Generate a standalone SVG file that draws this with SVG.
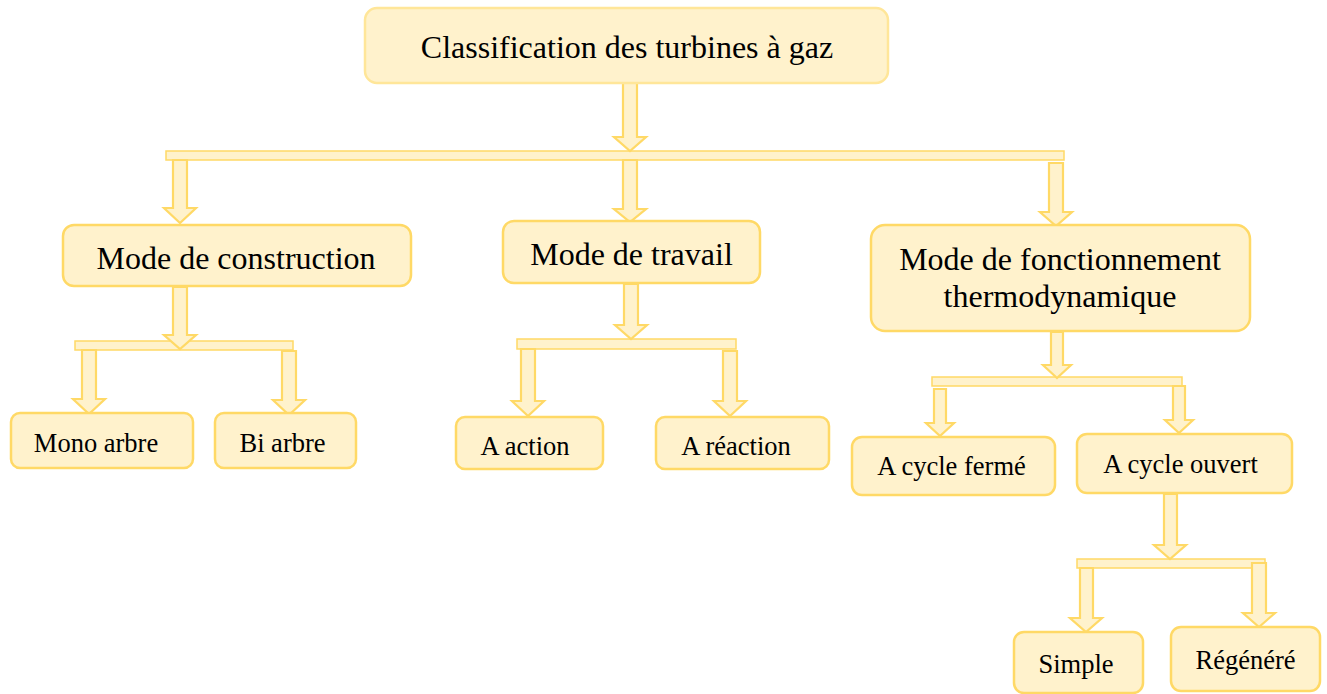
<svg xmlns="http://www.w3.org/2000/svg" width="1327" height="694" viewBox="0 0 1327 694">
<style>
.box{fill:#FFF2CC;stroke:#FFD966;stroke-width:2.5}
.top{fill:#FFF2CC;stroke:#FFE699;stroke-width:2.5}
.bar{fill:#FFF2CC;stroke:#FFD966;stroke-width:1.5}
.arr{fill:#FFF2CC;stroke:#FFD966;stroke-width:2.2;stroke-linejoin:miter}
text{font-family:"Liberation Serif","Times New Roman",serif;fill:#000;text-anchor:middle}
.big{font-size:32px}
.sm{font-size:26.5px}
</style>
<rect width="1327" height="694" fill="#fff"/>
<g id="connectors">
<rect class="bar" x="166" y="151" width="898" height="9"/>
<rect class="bar" x="75" y="341" width="218" height="9"/>
<rect class="bar" x="517" y="339" width="219" height="10"/>
<rect class="bar" x="932" y="377" width="250" height="9"/>
<rect class="bar" x="1077" y="559" width="188" height="9"/>
<path class="arr" d="M623,83 L637,83 L637,137 L646,137 L630,151 L614,137 L623,137 Z"/>
<path class="arr" d="M173,160 L187,160 L187,208 L196,208 L180,223 L164,208 L173,208 Z"/>
<path class="arr" d="M623,160 L637,160 L637,209 L646,209 L630,222 L614,209 L623,209 Z"/>
<path class="arr" d="M1049,163 L1063,163 L1063,212 L1072,212 L1056,226 L1040,212 L1049,212 Z"/>
<path class="arr" d="M173,287 L187,287 L187,335 L196,335 L180,349 L164,335 L173,335 Z"/>
<path class="arr" d="M82,350 L96,350 L96,399 L105,399 L89,414 L73,399 L82,399 Z"/>
<path class="arr" d="M282,351 L296,351 L296,400 L305,400 L289,415 L273,400 L282,400 Z"/>
<path class="arr" d="M624,284 L638,284 L638,325 L647,325 L631,339 L615,325 L624,325 Z"/>
<path class="arr" d="M521,349 L535,349 L535,401 L544,401 L528,416 L512,401 L521,401 Z"/>
<path class="arr" d="M723,351 L737,351 L737,401 L746,401 L730,416 L714,401 L723,401 Z"/>
<path class="arr" d="M1051,332 L1063,332 L1063,365 L1071,365 L1057,378 L1043,365 L1051,365 Z"/>
<path class="arr" d="M934,389 L946,389 L946,423 L954,423 L940,436 L926,423 L934,423 Z"/>
<path class="arr" d="M1173,386 L1185,386 L1185,420 L1193,420 L1179,433 L1165,420 L1173,420 Z"/>
<path class="arr" d="M1164,494 L1177,494 L1177,545 L1186,545 L1170,559 L1154,545 L1164,545 Z"/>
<path class="arr" d="M1080,568 L1093,568 L1093,618 L1102,618 L1086,632 L1070,618 L1080,618 Z"/>
<path class="arr" d="M1252,563 L1266,563 L1266,613 L1275,613 L1259,627 L1243,613 L1252,613 Z"/>
</g>
<g id="n-root"><rect class="top" x="365" y="8" width="523" height="75" rx="12"/><text class="big" x="627" y="58">Classification des turbines à gaz</text></g>
<g id="n-construction"><rect class="box" x="63" y="225" width="348" height="61" rx="11"/><text class="big" x="236" y="269">Mode de construction</text></g>
<g id="n-travail"><rect class="box" x="503" y="221" width="257" height="62" rx="11"/><text class="big" x="631.5" y="265">Mode de travail</text></g>
<g id="n-fonctionnement"><rect class="box" x="871" y="225" width="379" height="106" rx="14"/><text class="big" x="1060" y="270">Mode de fonctionnement</text><text class="big" x="1060" y="307">thermodynamique</text></g>
<g id="n-mono"><rect class="box" x="11" y="413" width="182" height="55" rx="9"/><text class="sm" x="96" y="452">Mono arbre</text></g>
<g id="n-bi"><rect class="box" x="215" y="413" width="141" height="55" rx="9"/><text class="sm" x="282.5" y="452">Bi arbre</text></g>
<g id="n-action"><rect class="box" x="456" y="417" width="147" height="52" rx="9"/><text class="sm" x="525" y="455">A action</text></g>
<g id="n-reaction"><rect class="box" x="656" y="417" width="173" height="52" rx="9"/><text class="sm" x="736" y="455">A réaction</text></g>
<g id="n-ferme"><rect class="box" x="852" y="437" width="203" height="58" rx="10"/><text class="sm" x="951.5" y="475">A cycle fermé</text></g>
<g id="n-ouvert"><rect class="box" x="1077" y="434" width="215" height="59" rx="10"/><text class="sm" x="1180.5" y="473">A cycle ouvert</text></g>
<g id="n-simple"><rect class="box" x="1014" y="632" width="129" height="61" rx="10"/><text class="sm" x="1076" y="673">Simple</text></g>
<g id="n-regenere"><rect class="box" x="1171" y="627" width="149" height="64" rx="10"/><text class="sm" x="1245.5" y="669">Régénéré</text></g>
</svg>
